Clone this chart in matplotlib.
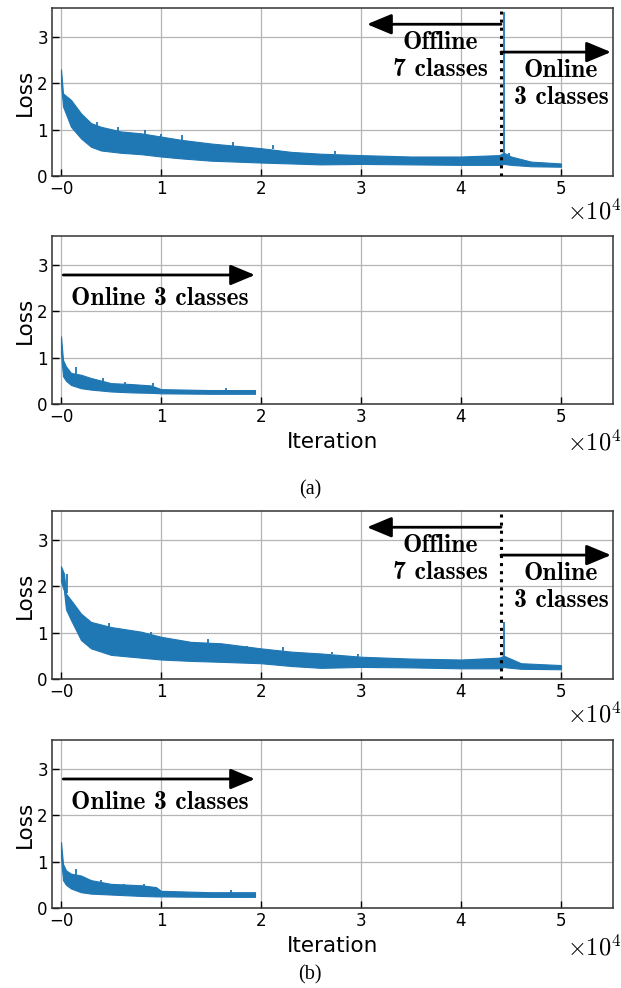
import matplotlib
matplotlib.use("Agg")
from matplotlib import pyplot as plt

plt.rcParams['mathtext.fontset'] = 'cm'

# x ticks (iterations) and their labels
xticks = [0, 10000, 20000, 30000, 40000, 50000]
xtick_labels = ['\u22120', '1', '2', '3', '4', '5']
yticks = [0, 1, 2, 3]

# (a) top: offline 7 classes then online 3 classes -- loss band
iters_a1 = [0, 200, 1000, 2000, 3000, 4000, 6000, 8000, 10000, 12000, 15000,
            20000, 23000, 26000, 30000, 35000, 40000, 43800, 44300, 45000, 47000, 50000]
hi_a1 = [2.30, 1.78, 1.64, 1.35, 1.14, 1.06, 0.96, 0.92, 0.85, 0.78, 0.70,
         0.60, 0.52, 0.48, 0.45, 0.42, 0.42, 0.45, 0.50, 0.42, 0.31, 0.27]
lo_a1 = [2.00, 1.50, 1.06, 0.81, 0.63, 0.55, 0.50, 0.47, 0.42, 0.38, 0.33,
         0.29, 0.27, 0.25, 0.26, 0.25, 0.24, 0.24, 0.26, 0.24, 0.21, 0.20]
# single-iteration spikes: x, peak, foot
spike_x_a1 = [3600, 5700, 8400, 10000, 12100, 17200, 21200, 27400, 44300, 44800]
spike_y_a1 = [1.16, 1.06, 0.99, 0.90, 0.88, 0.73, 0.67, 0.53, 3.54, 0.50]
spike_b_a1 = [1.05, 0.95, 0.90, 0.83, 0.78, 0.65, 0.58, 0.47, 0.45, 0.40]

# (a) bottom: online 3 classes only
iters_a2 = [0, 200, 500, 1000, 2000, 3000, 5000, 7000, 9000, 10000, 15000, 19400]
hi_a2 = [1.46, 0.95, 0.81, 0.67, 0.63, 0.56, 0.45, 0.43, 0.40, 0.32, 0.30, 0.30]
lo_a2 = [1.10, 0.60, 0.50, 0.41, 0.34, 0.31, 0.27, 0.25, 0.24, 0.23, 0.22, 0.22]
spike_x_a2 = [1500, 4200, 6400, 9200, 16500]
spike_y_a2 = [0.80, 0.55, 0.48, 0.45, 0.35]
spike_b_a2 = [0.64, 0.48, 0.43, 0.39, 0.30]

# (b) top
iters_b1 = [0, 300, 500, 1000, 2000, 3000, 5000, 8000, 10000, 13000, 16000,
            20000, 23000, 26000, 30000, 35000, 40000, 43800, 44300, 44500, 46000, 50000]
hi_b1 = [2.43, 2.27, 1.84, 1.70, 1.41, 1.23, 1.12, 1.02, 0.91, 0.80, 0.77,
         0.66, 0.59, 0.55, 0.48, 0.44, 0.42, 0.46, 0.50, 0.48, 0.34, 0.30]
lo_b1 = [2.10, 1.90, 1.50, 1.27, 0.84, 0.66, 0.52, 0.46, 0.42, 0.39, 0.37,
         0.34, 0.28, 0.24, 0.26, 0.25, 0.23, 0.23, 0.26, 0.25, 0.22, 0.21]
spike_x_b1 = [600, 4800, 9000, 14700, 18600, 22200, 27100, 29700, 44300]
spike_y_b1 = [2.27, 1.20, 1.02, 0.86, 0.72, 0.69, 0.58, 0.53, 1.23]
spike_b_b1 = [1.85, 1.12, 0.94, 0.78, 0.68, 0.60, 0.54, 0.48, 0.45]

# (b) bottom
iters_b2 = [0, 200, 500, 1000, 2000, 3000, 5000, 8000, 9500, 10000, 15000, 19400]
hi_b2 = [1.42, 0.95, 0.81, 0.74, 0.70, 0.60, 0.52, 0.49, 0.45, 0.37, 0.34, 0.34]
lo_b2 = [1.10, 0.60, 0.50, 0.42, 0.34, 0.31, 0.29, 0.26, 0.25, 0.25, 0.24, 0.24]
spike_x_b2 = [1500, 4000, 6300, 8300, 17000]
spike_y_b2 = [0.85, 0.60, 0.52, 0.52, 0.38]
spike_b_b2 = [0.70, 0.55, 0.50, 0.47, 0.33]

blue = '#1f77b4'
bold_serif = ['cmb10', 'DejaVu Serif']

fig = plt.figure(figsize=(6.21, 9.88), dpi=100)

left, width, height = 52 / 621, 561 / 621, 168 / 988
bottoms = [1 - 176 / 988, 1 - 404 / 988, 1 - 679 / 988, 1 - 908 / 988]


def style_axes(ax, xlabel=False, off_y=-0.256):
    ax.set_xlim(-900, 55200)
    ax.set_ylim(0, 3.62)
    ax.set_xticks(xticks)
    ax.set_xticklabels(xtick_labels)
    ax.set_yticks(yticks)
    ax.tick_params(direction='in', length=5, width=1, labelsize=12, pad=3)
    ax.grid(True, color='#b5b5b5', lw=0.9)
    ax.set_axisbelow(True)
    for s in ax.spines.values():
        s.set_color('#333333')
        s.set_linewidth(1.1)
    ax.set_ylabel('Loss', fontsize=15.5, labelpad=2)
    if xlabel:
        ax.set_xlabel('Iteration', fontsize=15.5, labelpad=4)
    ax.text(1.015, off_y, r'$\times10^{4}$', transform=ax.transAxes,
            ha='right', va='baseline', fontsize=17.5)


def draw_band(ax, xs, lo, hi, sx, sy, sb):
    ax.fill_between(xs, lo, hi, color=blue, lw=0.8, edgecolor=blue, zorder=2)
    ax.vlines(sx, sb, sy, color=blue, lw=1.3, zorder=2)


arrow = dict(arrowstyle='-|>,head_length=0.6,head_width=0.25',
             color='k', lw=2, mutation_scale=25, shrinkA=0, shrinkB=0)


def offline_online(ax):
    ax.axvline(44000, color='k', ls=':', lw=2.2, zorder=3)
    ax.annotate('', xy=(30600, 3.27), xytext=(44000, 3.27), arrowprops=arrow)
    ax.annotate('', xy=(55000, 2.67), xytext=(44000, 2.67), arrowprops=arrow,
                annotation_clip=False)
    ax.text(37900, 2.58, 'Offline\n7 classes', ha='center', va='center',
            fontsize=18.5, family=bold_serif, linespacing=1.22)
    ax.text(50000, 1.98, 'Online\n3 classes', ha='center', va='center',
            fontsize=18.5, family=bold_serif, linespacing=1.22)


def online_only(ax):
    ax.annotate('', xy=(19400, 2.78), xytext=(230, 2.78), arrowprops=arrow)
    ax.text(9900, 2.28, 'Online 3 classes', ha='center', va='center',
            fontsize=18.5, family=bold_serif)


ax1 = fig.add_axes([left, bottoms[0], width, height])
draw_band(ax1, iters_a1, lo_a1, hi_a1, spike_x_a1, spike_y_a1, spike_b_a1)
offline_online(ax1)
style_axes(ax1, off_y=-0.256)

ax2 = fig.add_axes([left, bottoms[1], width, height])
draw_band(ax2, iters_a2, lo_a2, hi_a2, spike_x_a2, spike_y_a2, spike_b_a2)
online_only(ax2)
style_axes(ax2, xlabel=True, off_y=-0.274)

ax3 = fig.add_axes([left, bottoms[2], width, height])
draw_band(ax3, iters_b1, lo_b1, hi_b1, spike_x_b1, spike_y_b1, spike_b_b1)
offline_online(ax3)
style_axes(ax3, off_y=-0.256)

ax4 = fig.add_axes([left, bottoms[3], width, height])
draw_band(ax4, iters_b2, lo_b2, hi_b2, spike_x_b2, spike_y_b2, spike_b_b2)
online_only(ax4)
style_axes(ax4, xlabel=True, off_y=-0.28)

fig.text(310 / 621, 1 - 490 / 988, '(a)', ha='center', va='center',
         fontsize=14.5, family='Liberation Serif')
fig.text(310 / 621, 1 - 975 / 988, '(b)', ha='center', va='center',
         fontsize=14.5, family='Liberation Serif')

fig.savefig('out.png', dpi=100)
